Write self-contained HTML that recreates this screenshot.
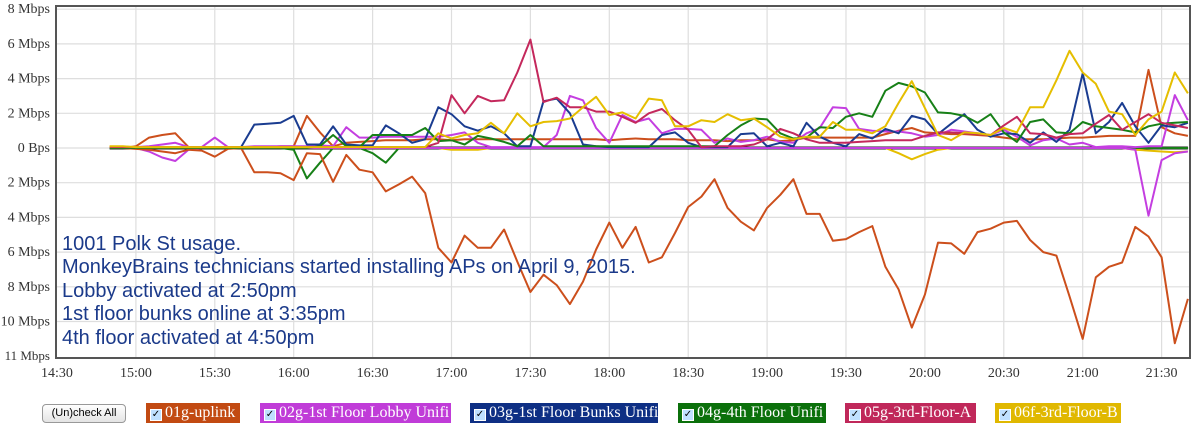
<!DOCTYPE html>
<html><head><meta charset="utf-8"><style>
body{margin:0;background:#fff;width:1200px;height:443px;overflow:hidden;position:relative;font-family:"Liberation Serif",serif}
#note{position:absolute;left:62px;top:233px;font:20px/23.4px "Liberation Sans",sans-serif;color:#1b3a8a}
.btn{position:absolute;left:42px;top:404px;width:82px;height:17px;border:1px solid #999;border-radius:4px;background:linear-gradient(#fff,#e4e4e4);font:11px "Liberation Sans",sans-serif;text-align:center;line-height:17px;color:#000}
.lg{position:absolute;top:403px;height:20px;color:#fff;font:16px/20px "Liberation Serif",serif;white-space:nowrap;padding-left:4px;box-sizing:border-box;overflow:hidden}
.lg span{display:inline-block;width:10px;height:10px;background:#bfe0ff;border:1px solid #fff;font-size:10px;line-height:9px;color:#000;text-align:center;margin-right:3px;vertical-align:0}
</style></head><body>
<svg id="chart" width="1200" height="443" style="position:absolute;left:0;top:0"></svg>
<div id="note">1001 Polk St usage.<br>MonkeyBrains technicians started installing APs on April 9, 2015.<br>Lobby activated at 2:50pm<br>1st floor bunks online at 3:35pm<br>4th floor activated at 4:50pm</div>
<div class="btn">(Un)check All</div>
<div class="lg" style="left:146px;width:94px;background:#c24a12"><span>✓</span>01g-uplink</div>
<div class="lg" style="left:260px;width:191px;background:#c03cd8"><span>✓</span>02g-1st Floor Lobby Unifi</div>
<div class="lg" style="left:470px;width:188px;background:#0e2f84"><span>✓</span>03g-1st Floor Bunks Unifi</div>
<div class="lg" style="left:678px;width:148px;background:#0b700b"><span>✓</span>04g-4th Floor Unifi</div>
<div class="lg" style="left:845px;width:131px;background:#c0285a"><span>✓</span>05g-3rd-Floor-A</div>
<div class="lg" style="left:995px;width:126px;background:#e0b800"><span>✓</span>06f-3rd-Floor-B</div>
<script>
const xTickLabels=["14:30","15:00","15:30","16:00","16:30","17:00","17:30","18:00","18:30","19:00","19:30","20:00","20:30","21:00","21:30"];
const yTicks=[8,6,4,2,0,-2,-4,-6,-8,-10];
const startMin=20, stepMin=5;
const uplinkDown=[0,0,0.05,0.1,0.2,0.3,0.1,0.15,0.5,0.05,0,1.4,1.4,1.45,1.85,0.3,0.35,1.95,0.4,1.25,1.4,2.5,2.1,1.65,2.6,5.75,6.6,5.05,5.75,5.75,4.7,6.55,8.3,7.3,7.9,9.0,7.7,5.85,4.3,5.75,4.55,6.6,6.3,4.9,3.4,2.8,1.8,3.45,4.25,4.75,3.45,2.7,1.8,3.8,3.8,5.35,5.25,4.85,4.5,6.85,8.15,10.35,8.45,5.45,5.5,6.1,4.85,4.65,4.3,4.2,5.3,6.0,6.2,8.55,11.0,7.45,6.85,6.6,4.55,5.1,6.3,11.25,8.7];
const uplinkUp=[0,0,0.1,0.6,0.75,0.85,0.05,0.05,0.05,0.05,0.05,0.05,0.05,0.1,0.1,1.85,0.9,0.1,0.3,0.35,0.4,0.45,0.45,0.45,0.5,0.5,0.45,0.5,0.5,0.5,0.5,0.5,0.5,0.5,0.5,0.5,0.5,0.5,0.45,0.5,0.55,0.5,0.5,0.5,0.45,0.45,0.45,0.4,0.45,0.45,0.5,0.4,0.45,0.6,0.6,0.6,0.6,0.6,0.6,0.8,1.0,1.15,0.9,0.85,0.8,0.8,0.75,0.7,0.6,0.5,0.5,0.5,0.55,0.6,0.6,0.65,0.7,0.7,0.7,4.5,1.2,0.85,0.7];
const lobbyUp=[0,0,0.05,0.1,0.2,0.3,0.05,0.05,0.6,0.05,0.05,0.1,0.1,0.1,0.1,0.1,0.15,0.1,1.2,0.6,0.6,0.65,0.65,0.65,0.65,0.65,0.75,0.9,0.3,0.05,0.05,0.05,0.05,0.05,0.75,3.0,2.75,1.15,0.3,1.9,1.5,1.7,0.85,1.1,1.1,1.05,0.3,0.55,0.35,0.45,0.65,0.35,0.3,0.85,1.15,2.35,2.3,1.1,1.0,0.95,0.95,0.85,0.65,0.75,1.05,0.95,0.85,0.75,1.05,0.65,0.15,0.45,0.55,0.2,0.3,0.05,0.1,0.1,0.05,0.1,0.1,3.05,1.6];
const lobbyDown=[0,0,0,0.2,0.55,0.75,0.1,0,0,0,0,0,0,0,0,0,0,0,0,0,0,0,0,0,0,0,0,0,0,0,0,0,0,0,0,0,0,0,0,0,0,0,0,0,0,0,0,0,0,0,0,0,0,0,0,0,0,0,0,0,0,0,0,0,0,0,0,0,0,0,0,0,0,0,0,0,0,0,0.1,3.9,0.7,0.3,0.2];
const bunksUp=[0,0,0,0,0,0,0,0,0,0,0.05,1.35,1.4,1.45,1.85,0.2,0.2,1.25,0.2,0.15,0.15,1.3,0.85,0.3,0.5,2.35,1.95,1.25,1.0,1.25,0.85,0.1,0.1,2.7,2.85,2.0,0.2,0.1,0.05,0.05,0.05,0.05,0.75,0.9,0.3,0.05,0.05,0.05,0.8,0.85,0.1,0.3,0.1,1.45,0.65,0.3,0.1,0.8,0.55,1.1,0.85,1.85,1.65,0.8,1.4,1.95,1.05,0.65,0.85,0.8,0.3,0.9,0.35,1.05,4.3,0.85,1.5,2.6,1.25,0.3,1.3,1.2,1.45];
const fourthUp=[0,0,0,0,0,0,0,0,0,0,0,0,0,0,0,0,0.1,0.75,0.1,0.05,0.75,0.75,0.75,0.75,1.15,0.4,0.45,0.2,0.7,0.55,0.35,0.1,0.75,0.1,0.1,0.1,0.1,0.1,0.1,0.1,0.1,0.1,0.1,0.1,0.1,0.1,0.1,0.75,1.3,1.7,1.65,0.85,0.55,0.6,1.2,1.15,1.8,2.0,1.8,3.3,3.75,3.55,3.2,2.05,2.0,1.85,1.45,1.95,0.9,0.35,1.5,1.65,0.9,0.85,1.5,1.25,1.15,1.05,0.9,1.25,1.4,1.45,1.5];
const fourthDown=[0,0,0,0,0,0,0,0,0,0,0,0,0,0,0.1,1.75,0.85,0,0,0,0.3,0.85,0,0,0,0,0,0,0,0,0,0,0,0,0,0,0,0,0,0,0,0,0,0,0,0,0,0,0,0,0,0,0,0,0,0,0,0,0,0,0,0,0,0,0,0,0,0,0,0,0,0,0,0,0,0,0,0,0,0,0,0,0];
const floorAUp=[0.05,0.05,0.05,0.05,0.05,0.05,0.05,0.05,0.05,0.05,0.05,0.05,0.05,0.05,0.05,0.05,0.05,0.05,0.05,0.05,0.05,0.05,0.05,0.05,0.05,0.3,3.05,2.0,3.0,2.7,2.75,4.35,6.25,2.65,2.9,2.35,2.35,2.1,2.1,1.8,1.45,2.0,2.25,1.6,1.05,0.05,0.1,0.1,0.1,0.2,0.5,1.1,0.85,0.5,0.3,0.3,0.3,0.35,0.4,0.45,0.45,0.45,0.7,0.9,0.9,0.85,0.8,0.75,1.3,1.8,0.85,0.8,0.6,0.8,0.85,1.4,1.9,1.05,1.5,1.95,1.45,1.3,1.15];
const floorBUp=[0.1,0.1,0.05,0.05,0.05,0.05,0.05,0.05,0.05,0.05,0.05,0.05,0.05,0.05,0.05,0.05,0.05,0.05,0.05,0.05,0.05,0.05,0.05,0.05,0.05,0.85,0.55,0.75,0.85,1.45,0.85,2.0,1.25,1.5,1.55,1.7,2.35,2.95,1.9,2.05,1.7,2.85,2.75,1.25,1.25,1.6,1.5,1.95,1.6,1.7,1.2,0.65,0.5,0.65,0.65,1.5,1.05,1.05,0.85,1.25,2.6,3.85,2.3,0.75,0.45,0.9,0.85,0.75,1.15,0.9,2.35,2.35,3.9,5.6,4.35,3.7,2.1,1.95,0.75,1.65,2.1,4.35,3.15];
const floorBDown=[0,0,0,0,0,0,0,0,0,0,0,0,0,0,0,0,0,0,0,0,0,0,0,0,0,0,0.1,0.1,0.1,0,0,0,0,0,0,0,0,0,0,0,0,0,0,0,0,0,0,0,0,0,0,0,0,0,0,0,0,0,0,0,0.3,0.65,0.35,0.1,0,0,0,0,0,0,0,0,0,0,0,0,0,0,0.1,0.15,0.2,0.25,0.2];

const NS="http://www.w3.org/2000/svg", svg=document.getElementById('chart');
const L=56,R=1190,T=6,B=358,ZERO=148,PPM=17.35;
const xMin=t=>57+t*2.63;
const yVal=v=>ZERO-v*PPM;
function mk(tag,attrs){const e=document.createElementNS(NS,tag);for(const k in attrs)e.setAttribute(k,attrs[k]);svg.appendChild(e);return e;}
yTicks.forEach(v=>{const g=mk('line',{x1:L,x2:R,y1:yVal(v),y2:yVal(v),stroke:'#dedede','stroke-width':1.2});


const t=mk('text',{x:50,y:yVal(v)+4,'text-anchor':'end','font-size':14,fill:'#333','font-family':'Liberation Serif,serif'});
t.textContent=v===0?'0 Bps':Math.abs(v)+' Mbps';

});
const bl=mk('text',{x:50,y:B+2,'text-anchor':'end','font-size':13,fill:'#333','font-family':'Liberation Serif,serif'});bl.textContent='11 Mbps';


xTickLabels.forEach((s,i)=>{const x=xMin(i*30);
if(i>0){const g=mk('line',{x1:x,x2:x,y1:T,y2:B,stroke:'#dedede','stroke-width':1.2});

}
const t=mk('text',{x:x,y:377,'text-anchor':'middle','font-size':14,fill:'#333','font-family':'Liberation Serif,serif'});t.textContent=s;

});
function line(arr,sign,color,name,w){const pts=arr.map((v,k)=>xMin(startMin+stepMin*k).toFixed(1)+','+yVal(sign*v).toFixed(1)).join(' ');
const p=mk('polyline',{points:pts,fill:'none',stroke:color,'stroke-width':w||2,'stroke-linejoin':'round'});

}
const base=new Array(uplinkDown.length).fill(0);
line(base,1,'#222','zero-baseline',3);
line(floorBDown,-1,'#e5be00','series-06f-down');
line(fourthDown,-1,'#178017','series-04g-down');
line(lobbyDown,-1,'#c43ee0','series-02g-down');
line(uplinkDown,-1,'#cc4f1c','series-01g-down');
line(uplinkUp,1,'#cc4f1c','series-01g-up');
line(lobbyUp,1,'#c43ee0','series-02g-up');
line(bunksUp,1,'#1a3c90','series-03g-up');
line(fourthUp,1,'#178017','series-04g-up');
line(floorAUp,1,'#c4285c','series-05g-up');
line(floorBUp,1,'#e5be00','series-06f-up');
const f=mk('rect',{x:L,y:T,width:R-L,height:B-T,fill:'none',stroke:'#555','stroke-width':2});


</script>
</body></html>
